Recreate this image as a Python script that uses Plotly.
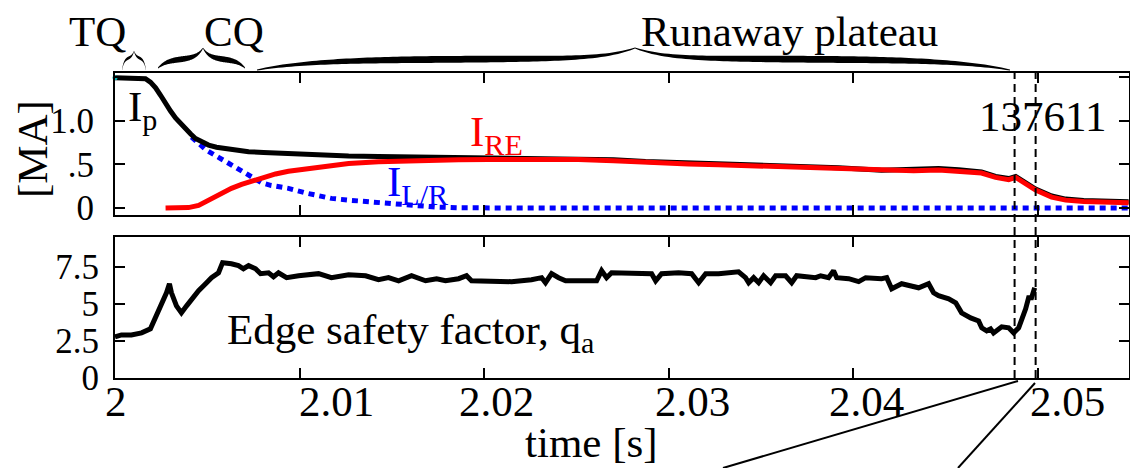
import numpy as np
import plotly.graph_objects as go

# ---------------- data ----------------
# plasma current I_p [MA]
t_ip = [2.00000, 2.00127, 2.00165, 2.00192, 2.00220, 2.00247, 2.00274, 2.00301,
        2.00328, 2.00355, 2.00382, 2.00409, 2.00436, 2.00469, 2.00507, 2.00550,
        2.00599, 2.00659, 2.00724, 2.00805, 2.00902, 2.00995, 2.01087, 2.01184,
        2.01266, 2.01428, 2.01645, 2.01862, 2.02024, 2.02295, 2.02512, 2.02702,
        2.02875, 2.03108, 2.03271, 2.03488, 2.03705, 2.03921, 2.04154, 2.04328,
        2.04463, 2.04572, 2.04696, 2.04772, 2.04843, 2.04881, 2.04924, 2.04989,
        2.05076, 2.05152, 2.05249, 2.05331, 2.05493]
ip = [1.49, 1.49, 1.48, 1.44, 1.375, 1.29, 1.19, 1.11,
      1.03, 0.965, 0.91, 0.85, 0.795, 0.755, 0.72, 0.695,
      0.68, 0.66, 0.645, 0.635, 0.625, 0.615, 0.605, 0.598,
      0.594, 0.59, 0.585, 0.578, 0.57, 0.568, 0.567, 0.552,
      0.532, 0.517, 0.507, 0.492, 0.482, 0.462, 0.432, 0.437,
      0.452, 0.437, 0.412, 0.362, 0.337, 0.362, 0.302, 0.217,
      0.137, 0.102, 0.087, 0.082, 0.072]

# runaway electron current I_RE [MA]
t_re = [2.00274, 2.00344, 2.00398, 2.00453, 2.00523, 2.00577, 2.00631, 2.00686,
        2.00740, 2.00805, 2.00870, 2.00940, 2.00995, 2.01119, 2.01266, 2.01428,
        2.01645, 2.01862, 2.02024, 2.02295, 2.02512, 2.02702, 2.02875, 2.03108,
        2.03271, 2.03488, 2.03705, 2.03921, 2.04154, 2.04328, 2.04463, 2.04572,
        2.04696, 2.04772, 2.04843, 2.04881, 2.04924, 2.04989, 2.05076, 2.05152,
        2.05249, 2.05331, 2.05493]
i_re = [0.0, 0.0, 0.005, 0.03, 0.11, 0.17, 0.225, 0.27,
        0.305, 0.35, 0.39, 0.42, 0.435, 0.47, 0.51, 0.53,
        0.545, 0.553, 0.556, 0.556, 0.555, 0.54, 0.52, 0.505,
        0.495, 0.48, 0.47, 0.45, 0.425, 0.425, 0.435, 0.425,
        0.40, 0.35, 0.325, 0.35, 0.29, 0.205, 0.125, 0.09,
        0.075, 0.07, 0.06]

# inductive (L/R) current [MA]
t_lr = [2.00415, 2.00453, 2.00496, 2.00561, 2.00615, 2.00659, 2.00713, 2.00767,
        2.00794, 2.00843, 2.00940, 2.01038, 2.01087, 2.01173, 2.01266, 2.01444,
        2.01591, 2.01737, 2.01862, 2.02187, 2.05493]
i_lr = [0.81, 0.74, 0.66, 0.58, 0.51, 0.455, 0.40, 0.32,
        0.29, 0.26, 0.225, 0.17, 0.15, 0.11, 0.09, 0.057,
        0.034, 0.011, 0.003, 0.0, 0.0]

# edge safety factor q_a
t_q = [2.00000, 2.00035, 2.00089, 2.00144, 2.00192, 2.00225, 2.00252, 2.00279,
       2.00295, 2.00306, 2.00333, 2.00360, 2.00388, 2.00415, 2.00453, 2.00491,
       2.00523, 2.00561, 2.00583, 2.00631, 2.00669, 2.00696, 2.00724, 2.00762,
       2.00789, 2.00832, 2.00859, 2.00886, 2.00930, 2.00995, 2.01103, 2.01173,
       2.01266, 2.01358, 2.01428, 2.01482, 2.01537, 2.01607, 2.01683, 2.01743,
       2.01791, 2.01862, 2.01905, 2.01932, 2.02024, 2.02149, 2.02257, 2.02312,
       2.02333, 2.02366, 2.02404, 2.02442, 2.02550, 2.02610, 2.02637, 2.02664,
       2.02691, 2.02800, 2.02875, 2.02908, 2.02930, 2.02962, 2.03054, 2.03125,
       2.03163, 2.03201, 2.03271, 2.03341, 2.03379, 2.03417, 2.03434, 2.03461,
       2.03488, 2.03515, 2.03553, 2.03580, 2.03634, 2.03667, 2.03694, 2.03797,
       2.03824, 2.03867, 2.03894, 2.03911, 2.03976, 2.04030, 2.04068, 2.04154,
       2.04182, 2.04209, 2.04263, 2.04355, 2.04409, 2.04436, 2.04463, 2.04518,
       2.04556, 2.04588, 2.04637, 2.04680, 2.04697, 2.04724, 2.04745, 2.04761,
       2.04805, 2.04843, 2.04870, 2.04897, 2.04913, 2.04935, 2.04951, 2.04967,
       2.04984]
q_a = [2.77, 2.90, 2.90, 3.04, 3.31, 4.19, 4.86, 5.74,
       6.35, 5.74, 4.86, 4.39, 4.86, 5.34, 5.88, 6.35,
       6.76, 7.09, 7.77, 7.70, 7.57, 7.36, 7.57, 7.36,
       7.03, 7.09, 6.82, 7.09, 6.76, 6.89, 7.03, 6.76,
       6.96, 6.89, 6.62, 6.76, 6.55, 6.89, 6.55, 6.69,
       6.55, 6.69, 6.89, 6.55, 6.55, 6.49, 6.62, 6.76,
       6.42, 7.03, 6.76, 6.55, 6.55, 6.55, 7.23, 6.76,
       7.09, 7.09, 7.03, 7.03, 6.55, 7.03, 7.09, 7.03,
       6.42, 7.03, 7.03, 7.09, 7.16, 6.76, 6.42, 6.76,
       6.42, 6.89, 6.42, 6.89, 6.89, 6.42, 6.89, 6.76,
       6.89, 6.76, 7.23, 6.76, 6.69, 6.49, 6.76, 6.69,
       6.76, 6.01, 6.35, 6.08, 6.35, 5.74, 5.54, 5.34,
       5.07, 4.39, 4.05, 3.85, 3.38, 3.18, 3.31, 3.04,
       3.45, 3.38, 3.04, 3.38, 3.85, 4.66, 5.41, 5.41,
       6.08]

# axis ticks
x_ticks = [2.00, 2.01, 2.02, 2.03, 2.04, 2.05]
x_tick_text = ["2", "2.01", "2.02", "2.03", "2.04", "2.05"]
y1_ticks = [0, 0.5, 1.0, 1.5]
y1_tick_text = ["0", ".5", "1.0", " "]
y2_ticks = [0, 2.5, 5, 7.5]
y2_tick_text = ["0", "2.5", "5", "7.5"]

# time window marks (shot 137611)
t_marks = [2.04875, 2.04989]

# ---------------- layout helpers ----------------
W, H = 1130, 468
FONT = "Liberation Serif"
FS = 43
TICK_FS = 35


def px(x):
    return x / W


def py(y):
    return 1 - y / H


def brace(x0, x1, xm, y_end, y_body, y_peak, w, k_end, k_peak, n=90):
    """Filled curly-brace outline (pixel inputs) as an SVG path in paper units."""
    upper, lower = [], []
    for xa, xb, flip in ((x0, xm, False), (xm, x1, True)):
        for s in np.linspace(0, 1, n):
            u = 1 - s if flip else s
            x = xa + s * (xb - xa)
            y = (y_body + (y_end - y_body) * np.exp(-u / k_end)
                 + (y_peak - y_body) * np.exp(-(1 - u) / k_peak))
            th = 0.8 + w * np.sin(np.pi * u) ** 0.7
            upper.append((x, y - th / 2))
            lower.append((x, y + th / 2))
    pts = upper + lower[::-1]
    d = "M " + " L ".join(f"{px(a):.5f},{py(b):.5f}" for a, b in pts) + " Z"
    return dict(type="path", xref="paper", yref="paper", path=d,
                fillcolor="black", line=dict(width=0))


# ---------------- figure ----------------
fig = go.Figure()

fig.add_trace(go.Scatter(x=t_lr, y=i_lr, mode="lines", xaxis="x", yaxis="y",
                         line=dict(color="rgb(0,0,255)", width=5, dash="6px,5px")))
fig.add_trace(go.Scatter(x=t_ip, y=ip, mode="lines", xaxis="x", yaxis="y",
                         line=dict(color="black", width=5)))
fig.add_trace(go.Scatter(x=t_re, y=i_re, mode="lines", xaxis="x", yaxis="y",
                         line=dict(color="rgb(255,0,0)", width=5)))
fig.add_trace(go.Scatter(x=[t_ip[0]], y=[ip[0]], mode="markers", xaxis="x", yaxis="y",
                         cliponaxis=False,
                         marker=dict(color="rgb(0,180,180)", size=5)))
fig.add_trace(go.Scatter(x=t_q, y=q_a, mode="lines", xaxis="x2", yaxis="y2",
                         line=dict(color="black", width=5)))

x_dom = [px(115), px(1129)]
x_rng = [2.0, 2.05495]
axis_common = dict(showline=True, linewidth=2, linecolor="black", mirror="ticks",
                   ticks="inside", ticklen=10, tickwidth=1.5, tickcolor="black",
                   showgrid=False, zeroline=False, automargin=False)

fig.update_layout(
    template="none",
    width=W, height=H, autosize=False,
    margin=dict(l=0, r=0, t=0, b=0, pad=0, autoexpand=False),
    paper_bgcolor="white", plot_bgcolor="white",
    showlegend=False,
    font=dict(family=FONT, size=FS, color="black"),
    xaxis=dict(domain=x_dom, range=x_rng, anchor="y", tickvals=x_ticks,
               showticklabels=False, **axis_common),
    yaxis=dict(domain=[py(215), py(73)], range=[-0.08, 1.545], anchor="x",
               tickvals=y1_ticks, ticktext=y1_tick_text,
               tickfont=dict(family=FONT, size=TICK_FS), ticklabelstandoff=12,
               **axis_common),
    xaxis2=dict(domain=x_dom, range=x_rng, anchor="y2", tickvals=x_ticks,
                showticklabels=False, **axis_common),
    yaxis2=dict(domain=[py(378), py(237)], range=[0, 9.5], anchor="x2",
                tickvals=y2_ticks, ticktext=y2_tick_text,
                tickfont=dict(family=FONT, size=TICK_FS), ticklabelstandoff=7,
                **axis_common),
)

# time-axis labels
x_label_pos = [2.00008, 2.01201, 2.02068, 2.03130, 2.04073, 2.05163]
for xv, txt in zip(x_label_pos, x_tick_text):
    fig.add_annotation(x=xv, xref="x2", y=py(401), yref="paper", text=txt,
                       showarrow=False, xanchor="center", yanchor="middle",
                       font=dict(family=FONT, size=FS))


def label(text, x, y, xanchor="center", color="black", size=FS, angle=0):
    fig.add_annotation(x=px(x), y=py(y), xref="paper", yref="paper", text=text,
                       showarrow=False, xanchor=xanchor, yanchor="middle",
                       textangle=angle,
                       font=dict(family=FONT, size=size, color=color))


label("time [s]", 591, 442)
label("[MA]", 32, 149, angle=-90)
label("TQ", 97, 32)
label("CQ", 234, 32)
label("Runaway plateau", 789, 32)
label("137611", 1042, 116)
label("I<sub>p</sub>", 126, 110, xanchor="left")
label("I<sub>RE</sub>", 468, 135, xanchor="left", color="rgb(255,0,0)")
label("I<sub>L/R</sub>", 385, 185, xanchor="left", color="rgb(0,0,255)")
label("Edge safety factor, q<sub>a</sub>", 225, 333, xanchor="left")

shapes = []
# dashed time-window markers spanning both panels
for tm in t_marks:
    shapes.append(dict(type="line", xref="x", yref="paper", x0=tm, x1=tm,
                       y0=py(378), y1=py(73),
                       line=dict(color="black", width=2, dash="8px,5px")))
# zoom connector lines
shapes.append(dict(type="line", xref="paper", yref="paper",
                   x0=px(1018), y0=py(381), x1=px(723), y1=py(468),
                   line=dict(color="black", width=2)))
shapes.append(dict(type="line", xref="paper", yref="paper",
                   x0=px(1035), y0=py(383), x1=px(958), y1=py(468),
                   line=dict(color="black", width=2)))
# phase braces
shapes.append(brace(122, 146, 134, 70, 58, 51, 2.2, 0.18, 0.18))
shapes.append(brace(158, 245, 203, 68, 59, 48, 5.0, 0.2, 0.15))
shapes.append(brace(257, 1010, 635, 70, 59, 48, 6.0, 0.15, 0.08))
fig.update_layout(shapes=shapes)

fig.write_html("out.html")
